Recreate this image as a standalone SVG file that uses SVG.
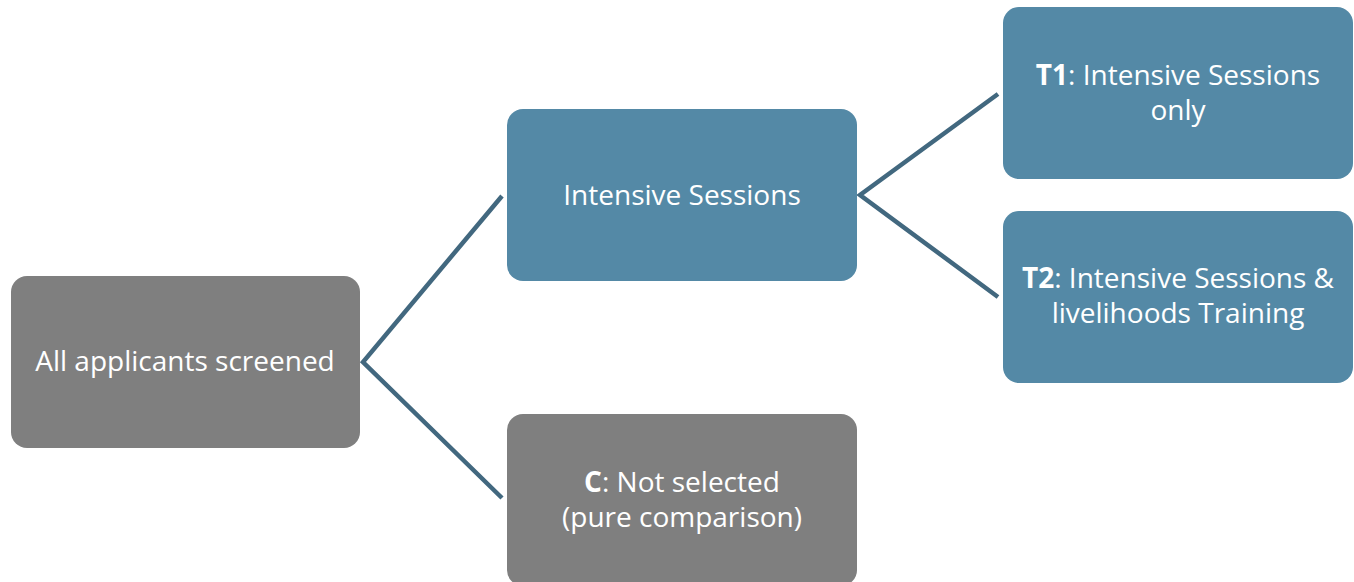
<svg xmlns="http://www.w3.org/2000/svg" width="1354" height="582" viewBox="0 0 1354 582">
<style>
.blue{fill:#5489a6}
.gray{fill:#7f7f7f}
.lbl{font-family:"Open Sans","Liberation Sans",sans-serif;font-size:28px;fill:#ffffff;text-anchor:middle}
.b{font-weight:bold}
.con{stroke:#42687f;stroke-width:4.5;fill:none}
</style>
<rect width="1354" height="582" fill="#ffffff"/>
<g id="connectors">
<polyline class="con" points="502,196 363,362 502,498"/>
<polyline class="con" points="998,94 860,195 998,297"/>
</g>
<g id="all">
<rect class="gray" x="11" y="276" width="349" height="172" rx="16"/>
<text class="lbl" x="185" y="371">All applicants screened</text>
</g>
<g id="intensive">
<rect class="blue" x="507" y="109" width="350" height="172" rx="16"/>
<text class="lbl" x="682" y="205">Intensive Sessions</text>
</g>
<g id="t1">
<rect class="blue" x="1003" y="7" width="350" height="172" rx="16"/>
<text class="lbl" x="1178" y="85"><tspan class="b">T1</tspan>: Intensive Sessions</text>
<text class="lbl" x="1178" y="120">only</text>
</g>
<g id="t2">
<rect class="blue" x="1003" y="211" width="350" height="172" rx="16"/>
<text class="lbl" x="1178" y="288"><tspan class="b">T2</tspan>: Intensive Sessions &amp;</text>
<text class="lbl" x="1178" y="323">livelihoods Training</text>
</g>
<g id="c">
<rect class="gray" x="507" y="414" width="350" height="172" rx="16"/>
<text class="lbl" x="682" y="492"><tspan class="b">C</tspan>: Not selected</text>
<text class="lbl" x="682" y="527">(pure comparison)</text>
</g>
</svg>
